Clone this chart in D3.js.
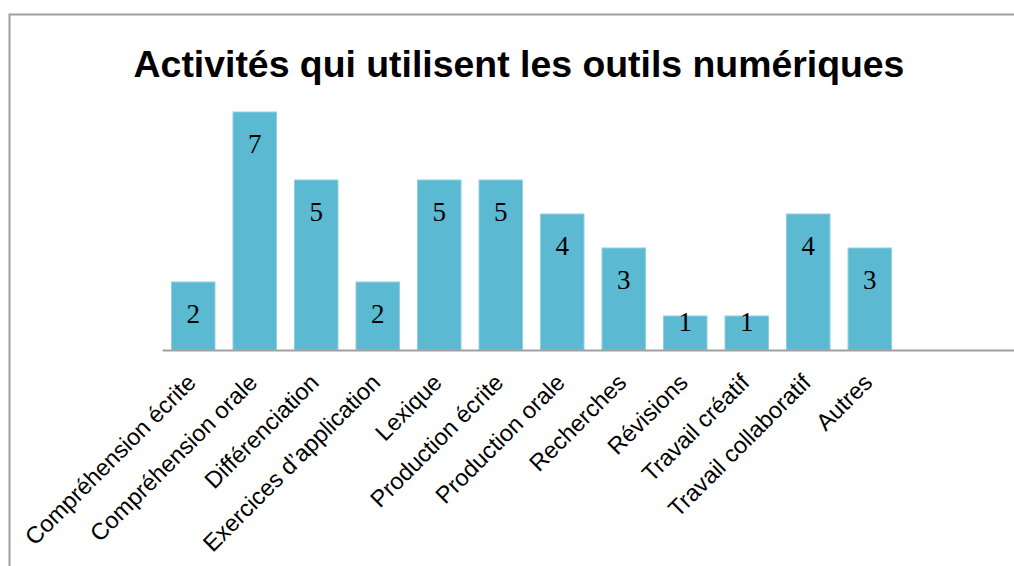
<!DOCTYPE html>
<html><head><meta charset="utf-8">
<script src="https://cdn.jsdelivr.net/npm/d3@7"></script>
<style>body{margin:0;background:#fff}svg{display:block}</style>
</head><body>
<svg id="c" width="1014" height="566"></svg>
<script>
const categories = ["Compréhension écrite","Compréhension orale","Différenciation","Exercices d’application","Lexique","Production écrite","Production orale","Recherches","Révisions","Travail créatif","Travail collaboratif","Autres"];
const values = [2,7,5,2,5,5,4,3,1,1,4,3];
const title = "Activités qui utilisent les outils numériques";

const svg = d3.select("#c");
svg.append("path").attr("d","M9.5,566 V14.5 H1014").attr("fill","none").attr("stroke","#a0a0a0").attr("stroke-width",2);

svg.append("text").attr("x",519).attr("y",77).attr("text-anchor","middle")
  .attr("font-family","Liberation Sans, Arial, sans-serif").attr("font-weight","bold").attr("font-size",37.4)
  .text(title);

const x0 = 162.5, step = 61.5;
const x = d3.scaleBand().domain(categories).range([x0, x0 + step*categories.length]).paddingInner(0.293).paddingOuter(0.146);
const y = d3.scaleLinear().domain([0,7]).range([350,112]);

svg.selectAll("rect.bar").data(values).join("rect").attr("class","bar")
  .attr("x",(d,i)=>x(categories[i])).attr("width",x.bandwidth())
  .attr("y",d=>y(d)).attr("height",d=>y(0)-y(d))
  .attr("fill","#5bb9d1").attr("stroke","#8fd0e2").attr("stroke-width",1);

svg.selectAll("text.val").data(values).join("text").attr("class","val")
  .attr("x",(d,i)=>x(categories[i])+x.bandwidth()/2)
  .attr("y",d=>Math.min(y(d)+32, y(0)-28))
  .attr("dy","0.35em").attr("text-anchor","middle")
  .attr("font-family","Liberation Serif, Times New Roman, serif").attr("font-size",27).attr("fill","#000")
  .text(d=>d);

svg.append("line").attr("x1",x0).attr("x2",1014).attr("y1",350.5).attr("y2",350.5).attr("stroke","#a0a0a0").attr("stroke-width",2);

svg.selectAll("text.cat").data(categories).join("text").attr("class","cat")
  .attr("transform",d=>`translate(${x(d)+x.bandwidth()/2+4},384) rotate(-45)`)
  .attr("text-anchor","end")
  .attr("font-family","Liberation Sans, Arial, sans-serif").attr("font-size",23.5).attr("fill","#000")
  .text(d=>d);
</script>
</body></html>
